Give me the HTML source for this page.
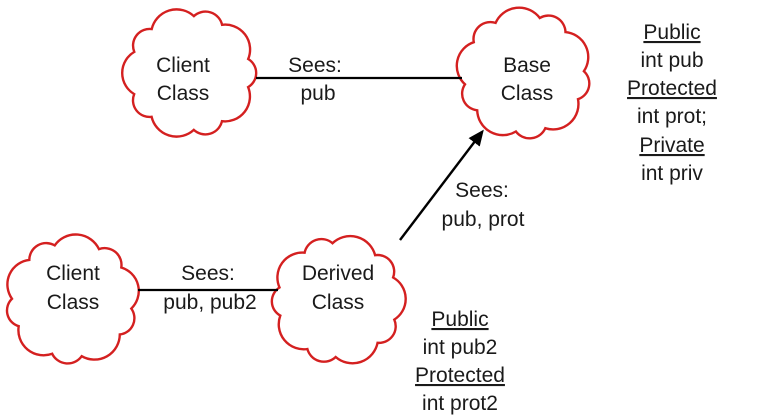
<!DOCTYPE html>
<html><head><style>
body{margin:0;background:#fff;}
svg{display:block}
text{font-family:"Liberation Sans",sans-serif;font-size:21px;fill:#1a1a1a;text-anchor:middle;}
</style></head><body>
<svg id="s" width="766" height="418" viewBox="0 0 766 418">
<defs><marker id="ah" markerWidth="16" markerHeight="14" refX="13" refY="7" orient="auto" markerUnits="userSpaceOnUse"><path d="M0,0 L16,7 L0,14 z" fill="#000"/></marker></defs>
<g id="clouds" fill="#fff" stroke="#d42020" stroke-width="2.4"></g>
<line x1="256" y1="78" x2="462" y2="78" stroke="#000" stroke-width="2.2"/>
<line x1="138" y1="290" x2="278" y2="290" stroke="#000" stroke-width="2.2"/>
<line x1="400" y1="240" x2="482" y2="132" stroke="#000" stroke-width="2.4" marker-end="url(#ah)"/>
<text x="183" y="72">Client</text><text x="183" y="100">Class</text>
<text x="527" y="72">Base</text><text x="527" y="100">Class</text>
<text x="73" y="280">Client</text><text x="73" y="309">Class</text>
<text x="338" y="280">Derived</text><text x="338" y="309">Class</text>
<text x="315" y="72">Sees:</text><text x="318" y="100" >pub</text>
<text x="208" y="280">Sees:</text><text x="210" y="309">pub, pub2</text>
<text x="482" y="197">Sees:</text><text x="483" y="226">pub, prot</text>
<text x="672" y="39" text-decoration="underline">Public</text>
<text x="672" y="95" text-decoration="underline">Protected</text>
<text x="672" y="152" text-decoration="underline">Private</text>
<text x="460" y="326" text-decoration="underline">Public</text>
<text x="460" y="382" text-decoration="underline">Protected</text>
<text x="672" y="67">int pub</text><text x="672" y="123">int prot;</text><text x="672" y="180">int priv</text>
<text x="460" y="354">int pub2</text><text x="460" y="410">int prot2</text>
</svg>
<script>
function cloud(cx,cy,rx,ry,n,ph){
 let pts=[];for(let i=0;i<n;i++){let a=ph+i*2*Math.PI/n+(i%2?0.08:-0.05);pts.push([cx+rx*Math.cos(a),cy+ry*Math.sin(a)]);}
 let d="M"+pts[0][0].toFixed(1)+","+pts[0][1].toFixed(1);
 for(let i=0;i<n;i++){let p=pts[(i+1)%n],q=pts[i];let L=Math.hypot(p[0]-q[0],p[1]-q[1]);let r=L*0.58;d+=" A"+r.toFixed(1)+","+r.toFixed(1)+" 0 0 1 "+p[0].toFixed(1)+","+p[1].toFixed(1);}
 return d+"Z";}
const g=document.getElementById("clouds");
[[190,73,60,57],[524,74,60,58],[72,300,60,57],[338,300,60,57]].forEach((c,i)=>{
 const p=document.createElementNS("http://www.w3.org/2000/svg","path");p.setAttribute("d",cloud(c[0],c[1],c[2],c[3],10,0.3+i*0.2));g.appendChild(p);});
</script>
</body></html>
